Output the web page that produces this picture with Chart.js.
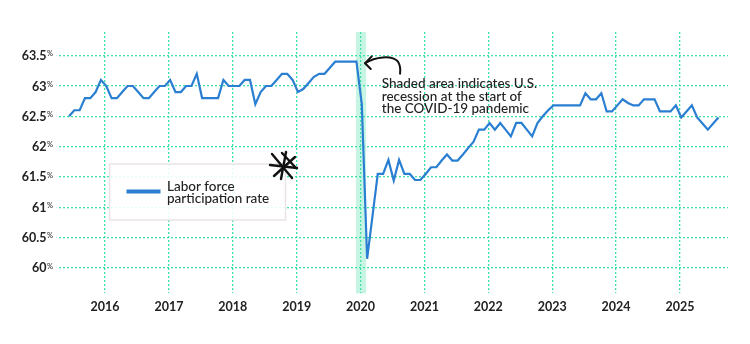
<!DOCTYPE html>
<html>
<head>
<meta charset="utf-8">
<script src="https://cdn.jsdelivr.net/npm/chart.js@4.4.1/dist/chart.umd.min.js"></script>
<style>
  html, body { margin: 0; padding: 0; background: #fff; }
  #wrap { position: relative; width: 750px; height: 344px; }
</style>
</head>
<body>
<div id="wrap"><canvas id="myChart" width="750" height="344"></canvas></div>
<script>
// year labels on the x axis, one gridline per January
const years = ['2016', '2017', '2018', '2019', '2020', '2021', '2022', '2023', '2024', '2025'];
// months between the first reading and the 2016 gridline
const firstYearOffset = 6.77;

// monthly labor force participation rate (%)
const participationRate = [
  62.5, 62.6, 62.6, 62.8, 62.8, 62.9, 63.1, 63.0, 62.8, 62.8,
  62.9, 63.0, 63.0, 62.9, 62.8, 62.8, 62.9, 63.0, 63.0, 63.1,
  62.9, 62.9, 63.0, 63.0, 63.2, 62.8, 62.8, 62.8, 62.8, 63.1,
  63.0, 63.0, 63.0, 63.1, 63.1, 62.7, 62.9, 63.0, 63.0, 63.1,
  63.2, 63.2, 63.1, 62.9, 62.95, 63.05, 63.15, 63.2, 63.2, 63.3,
  63.4, 63.4, 63.4, 63.4, 63.4, 62.7, 60.15, 60.85, 61.55, 61.55,
  61.78, 61.44, 61.78, 61.55, 61.55, 61.45, 61.45, 61.55, 61.66, 61.66,
  61.77, 61.87, 61.77, 61.77, 61.87, 61.98, 62.08, 62.28, 62.28, 62.39,
  62.28, 62.39, 62.28, 62.17, 62.39, 62.39, 62.28, 62.17, 62.39, 62.5,
  62.6, 62.68, 62.68, 62.68, 62.68, 62.68, 62.68, 62.88, 62.78, 62.78,
  62.88, 62.58, 62.58, 62.68, 62.78, 62.72, 62.68, 62.68, 62.78, 62.78,
  62.78, 62.58, 62.58, 62.58, 62.68, 62.48, 62.58, 62.68, 62.48, 62.38,
  62.28, 62.38, 62.48
];

const yTicks = [60, 60.5, 61, 61.5, 62, 62.5, 63, 63.5];
// shaded recession span, in months from the first reading
const recessionStart = 53.9;
const recessionEnd = 55.8;

const noteLines = ['Shaded area indicates U.S.', 'recession at the start of', 'the COVID-19 pandemic'];
const legendLines = ['Labor force', 'participation rate'];

const blue = '#2a7fd2';
const gridColor = '#3ee0a6';
const textColor = '#222';
const fontFamily = 'Lato, "Open Sans", sans-serif';

const recessionBand = {
    id: 'recessionBand',
    beforeDatasetsDraw(chart) {
        const { ctx, chartArea, scales } = chart;
        const x1 = scales.x.getPixelForValue(recessionStart);
        const x2 = scales.x.getPixelForValue(recessionEnd);
        ctx.save();
        ctx.fillStyle = 'rgba(80, 225, 170, 0.32)';
        ctx.fillRect(x1, chartArea.top, x2 - x1, chartArea.bottom - chartArea.top);
        ctx.restore();
    }
};

const yLabels = {
    id: 'yLabels',
    afterDraw(chart) {
        const { ctx, scales } = chart;
        ctx.save();
        ctx.fillStyle = textColor;
        ctx.font = '7.5px ' + fontFamily;
        const pctW = ctx.measureText('%').width;
        const right = 53;
        yTicks.forEach(v => {
            const y = scales.y.getPixelForValue(v);
            ctx.font = 'bold 12.5px ' + fontFamily;
            ctx.textAlign = 'right';
            ctx.textBaseline = 'middle';
            ctx.fillText(String(v), right - pctW - 0.5, y + 0.5);
            ctx.font = '7.5px ' + fontFamily;
            ctx.textAlign = 'left';
            ctx.textBaseline = 'top';
            ctx.fillText('%', right - pctW, y - 5.5);
        });
        ctx.restore();
    }
};

const annotations = {
    id: 'annotations',
    afterDraw(chart) {
        const { ctx, scales } = chart;
        const ax = scales.x.getPixelForValue(recessionEnd);
        const ay = scales.y.getPixelForValue(63.4);

        ctx.save();
        // curved arrow pointing at the shaded band
        ctx.strokeStyle = '#111';
        ctx.lineWidth = 2;
        ctx.lineCap = 'round';
        ctx.lineJoin = 'round';
        ctx.beginPath();
        ctx.moveTo(ax - 1, ay + 1.5);
        ctx.bezierCurveTo(ax + 9, ay - 5, ax + 26, ay - 7, ax + 32, ay);
        ctx.quadraticCurveTo(ax + 35, ay + 5, ax + 34, ay + 12);
        ctx.stroke();
        ctx.beginPath();
        ctx.moveTo(ax + 5.7, ay - 5.3);
        ctx.lineTo(ax - 1, ay + 1.5);
        ctx.lineTo(ax + 4.7, ay + 7.3);
        ctx.stroke();

        ctx.fillStyle = textColor;
        ctx.font = '500 13.5px ' + fontFamily;
        ctx.textAlign = 'left';
        ctx.textBaseline = 'alphabetic';
        noteLines.forEach((t, i) => ctx.fillText(t, ax + 15.7, ay + 26.7 + i * 12.3));

        // legend box
        const bx = 109.5, by = 164, bw = 176, bh = 56;
        ctx.fillStyle = 'rgba(255, 255, 255, 0.88)';
        ctx.fillRect(bx, by, bw, bh);
        ctx.strokeStyle = '#e9e4e6';
        ctx.lineWidth = 1.5;
        ctx.strokeRect(bx, by, bw, bh);
        ctx.strokeStyle = blue;
        ctx.lineWidth = 4;
        ctx.lineCap = 'butt';
        ctx.beginPath();
        ctx.moveTo(126.5, 191.5);
        ctx.lineTo(160.5, 191.5);
        ctx.stroke();
        ctx.fillStyle = textColor;
        ctx.font = '500 13.5px ' + fontFamily;
        legendLines.forEach((t, i) => ctx.fillText(t, 167, 190.7 + i * 12.6));

        // hand drawn asterisk on the legend corner
        ctx.strokeStyle = '#111';
        ctx.lineWidth = 2.4;
        ctx.lineCap = 'round';
        const sx = 284, sy = 166;
        const arms = [[-12, -12, 8, 12], [2, -14, -3, 13], [11, -9, -10, 10], [-14, -1, 13, 2], [12, 2, -2, -13]];
        arms.forEach(a => {
            ctx.beginPath();
            ctx.moveTo(sx + a[0], sy + a[1]);
            ctx.lineTo(sx + a[2], sy + a[3]);
            ctx.stroke();
        });
        ctx.restore();
    }
};

const ctx = document.getElementById('myChart').getContext('2d');
new Chart(ctx, {
    type: 'line',
    data: {
        datasets: [{
            label: 'Labor force participation rate',
            data: participationRate.map((v, i) => ({ x: i, y: v })),
            borderColor: blue,
            borderWidth: 2.2,
            pointRadius: 0,
            tension: 0,
            fill: false
        }]
    },
    options: {
        responsive: false,
        animation: false,
        layout: { padding: { left: 59, right: 22, top: 32, bottom: 23.6 } },
        plugins: {
            legend: { display: false },
            tooltip: { enabled: false }
        },
        scales: {
            x: {
                type: 'linear',
                min: -1.88,
                max: 123.79,
                afterBuildTicks: scale => {
                    scale.ticks = years.map((y, k) => ({ value: firstYearOffset + 12 * k }));
                },
                ticks: {
                    callback: (value, index) => years[index],
                    autoSkip: false,
                    maxRotation: 0,
                    padding: 6,
                    color: textColor,
                    font: { family: fontFamily, size: 12.5, weight: 'bold' }
                },
                grid: { color: gridColor, lineWidth: 1.3, drawTicks: false },
                border: { display: false, dash: [2, 2] }
            },
            y: {
                min: 59.58,
                max: 63.89,
                afterBuildTicks: scale => {
                    scale.ticks = yTicks.map(v => ({ value: v }));
                },
                ticks: { display: false },
                grid: { color: gridColor, lineWidth: 1.3, drawTicks: false },
                border: { display: false, dash: [2, 2] }
            }
        }
    },
    plugins: [recessionBand, yLabels, annotations]
});
</script>
</body>
</html>
